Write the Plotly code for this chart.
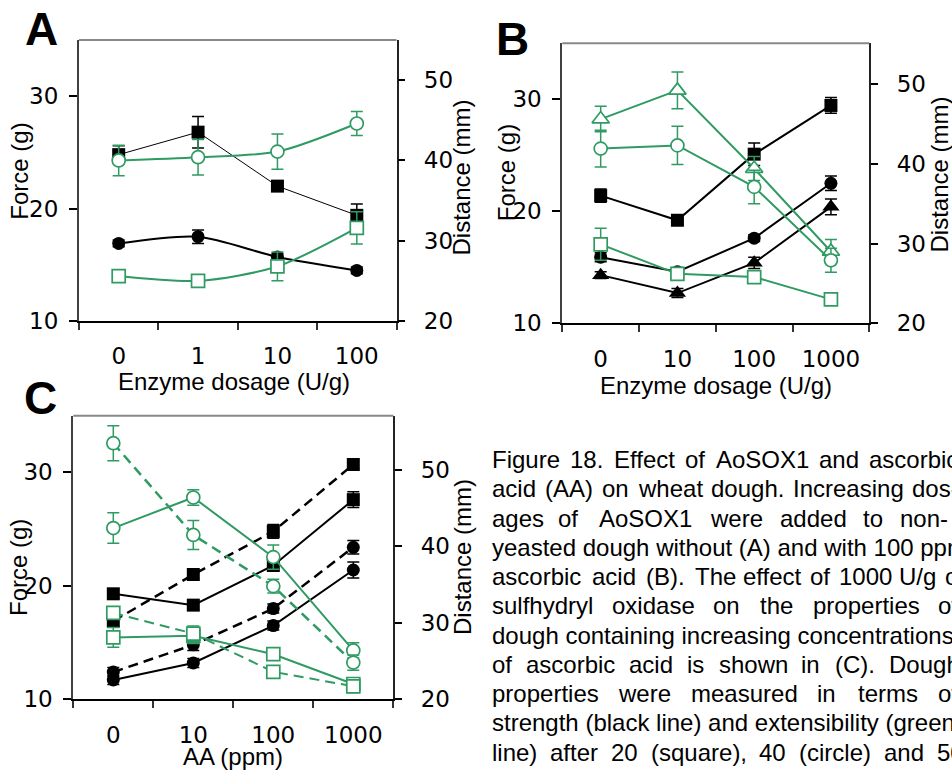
import plotly.graph_objects as go

W, H = 952, 771
GREEN = "#2f9a62"
BLACK = "#000000"

# ---------------- data ----------------
cats_A = ["0", "1", "10", "100"]
cats_BC = ["0", "10", "100", "1000"]

# Panel A (no ascorbic acid) - Force (g) left, Distance (mm) right
A_force_20 = [24.8, 26.8, 22.0, 19.4]
A_force_20_err = [0.8, 1.4, 0.3, 1.0]
A_force_40 = [16.9, 17.5, 15.7, 14.5]
A_force_40_err = [0.3, 0.6, 0.3, 0.3]
A_dist_40 = [40.0, 40.4, 41.1, 44.6]
A_dist_40_err = [1.9, 2.2, 2.2, 1.5]
A_dist_20 = [25.6, 25.0, 26.8, 31.6]
A_dist_20_err = [0.4, 0.3, 1.8, 2.0]

# Panel B (100 ppm ascorbic acid)
B_force_20 = [21.4, 19.2, 25.1, 29.45]
B_force_20_err = [0.6, 0.4, 1.0, 0.7]
B_force_40 = [15.9, 14.6, 17.6, 22.5]
B_force_40_err = [0.4, 0.3, 0.3, 0.65]
B_force_50 = [14.3, 12.7, 15.4, 20.4]
B_force_50_err = [0.3, 0.4, 0.5, 0.7]
B_dist_50 = [45.6, 49.2, 39.4, 29.0]
B_dist_50_err = [1.6, 2.3, 1.5, 1.5]
B_dist_40 = [41.9, 42.3, 37.1, 27.9]
B_dist_40_err = [2.3, 2.4, 2.1, 1.5]
B_dist_20 = [29.9, 26.2, 25.8, 23.0]
B_dist_20_err = [2.0, 0.8, 0.5, 0.5]

# Panel C (AA series; solid = without enzyme, dashed = with 1000 U/g)
C_force_20 = [19.3, 18.3, 21.8, 27.6]
C_force_20_err = [0.4, 0.4, 0.5, 0.7]
C_force_20_sox = [16.9, 21.0, 24.8, 30.7]
C_force_20_sox_err = [0.5, 0.4, 0.6, 0.4]
C_force_40 = [11.7, 13.2, 16.5, 21.4]
C_force_40_err = [0.4, 0.4, 0.4, 0.7]
C_force_40_sox = [12.4, 14.8, 18.0, 23.4]
C_force_40_sox_err = [0.4, 0.5, 0.4, 0.6]
C_dist_40 = [42.4, 46.4, 38.6, 26.4]
C_dist_40_err = [2.0, 1.0, 1.6, 1.0]
C_dist_40_sox = [53.5, 41.5, 34.8, 24.8]
C_dist_40_sox_err = [2.3, 1.9, 0.9, 1.0]
C_dist_20 = [28.1, 28.3, 25.9, 22.0]
C_dist_20_err = [1.3, 1.0, 0.5, 0.8]
C_dist_20_sox = [31.3, 28.6, 23.6, 21.7]
C_dist_20_sox_err = [0.8, 1.0, 0.5, 0.8]

force_ticks = [10, 20, 30]
dist_ticks = [20, 30, 40, 50]

# caption: justified lines placed word by word, natural lines as one string
caption_lines = [
    [("Figure", 491.7), ("18.", 569.6), ("Effect", 613.6), ("of", 685), ("AoSOX1", 715.9), ("and", 818.6), ("ascorbic", 869.1)],
    [("acid", 491.7), ("(AA)", 544.9), ("on", 602), ("wheat", 638.2), ("dough.", 711), ("Increasing", 793), ("dos-", 911.6)],
    [("ages", 491.7), ("of", 558), ("AoSOX1", 599.2), ("were", 710), ("added", 780), ("to", 863), ("non-", 900)],
    [("yeasted dough without (A) and with 100 ppm", 491.7)],
    [("ascorbic", 491.7), ("acid", 592), ("(B).", 646), ("The", 695), ("effect", 743), ("of", 810), ("1000", 839), ("U/g", 899), ("of", 945)],
    [("sulfhydryl", 491.7), ("oxidase", 611.5), ("on", 713.1), ("the", 759.8), ("properties", 813.1), ("of", 938.2)],
    [("dough containing increasing concentrations", 491.7)],
    [("of", 491.7), ("ascorbic", 526.2), ("acid", 628.6), ("is", 686.6), ("shown", 718.5), ("in", 801.3), ("(C).", 834.5), ("Dough", 888.6)],
    [("properties", 491.7), ("were", 618.1), ("measured", 690.9), ("in", 817.3), ("terms", 857.5), ("of", 938.2)],
    [("strength (black line) and extensibility (green", 491.7)],
    [("line)", 491.7), ("after", 550.1), ("20", 611.1), ("(square),", 651.2), ("40", 759.2), ("(circle)", 799.3), ("and", 883.8), ("50", 937)],
]

# ---------------- figure ----------------
fig = go.Figure()


def add(xa, ya, cats, vals, errs, color, symbol, filled, lw, dash=None, shape="linear", name=""):
    size = 15 if symbol == "triangle-up" else 13
    fig.add_trace(go.Scatter(
        x=cats, y=vals, xaxis=xa, yaxis=ya, name=name,
        mode="lines+markers",
        line=dict(color=color, width=lw, dash=dash, shape=shape, smoothing=0.8),
        marker=dict(symbol=symbol, size=size,
                    color=color if filled else "white",
                    line=dict(color=color, width=0 if filled else 1.7)),
        error_y=dict(type="data", array=errs, color=color, thickness=1.5, width=6),
        showlegend=False, cliponaxis=False,
    ))


# Panel A
add("x", "y", cats_A, A_force_20, A_force_20_err, BLACK, "square", True, 1.0, name="Force 20 min")
add("x", "y", cats_A, A_force_40, A_force_40_err, BLACK, "circle", True, 2.0, shape="spline", name="Force 40 min")
add("x", "y2", cats_A, A_dist_40, A_dist_40_err, GREEN, "circle", False, 2.0, shape="spline", name="Distance 40 min")
add("x", "y2", cats_A, A_dist_20, A_dist_20_err, GREEN, "square", False, 2.0, shape="spline", name="Distance 20 min")

# Panel B
add("x2", "y4", cats_BC, B_force_20, B_force_20_err, BLACK, "square", True, 2.0, name="Force 20 min")
add("x2", "y4", cats_BC, B_force_40, B_force_40_err, BLACK, "circle", True, 2.0, name="Force 40 min")
add("x2", "y4", cats_BC, B_force_50, B_force_50_err, BLACK, "triangle-up", True, 2.0, name="Force 50 min")
add("x2", "y5", cats_BC, B_dist_50, B_dist_50_err, GREEN, "triangle-up", False, 2.0, name="Distance 50 min")
add("x2", "y5", cats_BC, B_dist_40, B_dist_40_err, GREEN, "circle", False, 2.0, name="Distance 40 min")
add("x2", "y5", cats_BC, B_dist_20, B_dist_20_err, GREEN, "square", False, 2.0, name="Distance 20 min")

# Panel C
DASH = "10px,6px"
add("x3", "y7", cats_BC, C_force_20, C_force_20_err, BLACK, "square", True, 2.0, name="Force 20 min")
add("x3", "y7", cats_BC, C_force_20_sox, C_force_20_sox_err, BLACK, "square", True, 2.5, dash=DASH, name="Force 20 min + SOX")
add("x3", "y7", cats_BC, C_force_40, C_force_40_err, BLACK, "circle", True, 2.0, name="Force 40 min")
add("x3", "y7", cats_BC, C_force_40_sox, C_force_40_sox_err, BLACK, "circle", True, 2.5, dash=DASH, name="Force 40 min + SOX")
add("x3", "y8", cats_BC, C_dist_40, C_dist_40_err, GREEN, "circle", False, 2.0, name="Distance 40 min")
add("x3", "y8", cats_BC, C_dist_40_sox, C_dist_40_sox_err, GREEN, "circle", False, 2.5, dash=DASH, name="Distance 40 min + SOX")
add("x3", "y8", cats_BC, C_dist_20, C_dist_20_err, GREEN, "square", False, 2.0, name="Distance 20 min")
add("x3", "y8", cats_BC, C_dist_20_sox, C_dist_20_sox_err, GREEN, "square", False, 2.0, dash=DASH, name="Distance 20 min + SOX")

TICKFONT = dict(family="DejaVu Sans", size=23, color="black")


def xdom(a, b):
    return [a / W, b / W]


def ydom(top, bottom):
    return [1 - bottom / H, 1 - top / H]


panels = [
    ("xaxis", "yaxis", "yaxis2", "yaxis3", "x", "y", xdom(79, 396.5), ydom(40, 321), cats_A, [20, 55]),
    ("xaxis2", "yaxis4", "yaxis5", "yaxis6", "x2", "y4", xdom(562.3, 869.3), ydom(43.3, 323.3), cats_BC, [20, 55.1]),
    ("xaxis3", "yaxis7", "yaxis8", "yaxis9", "x3", "y7", xdom(73.3, 393.3), ydom(415.7, 699.3), cats_BC, [20, 57.1]),
]

layout_axes = {}
shapes = []
for xn, yl, yr, yi, xid, yid, xd, yd, cats, rr in panels:
    layout_axes[xn] = dict(
        domain=xd, anchor=yid, type="category", categoryorder="array", categoryarray=cats,
        range=[-0.5, 3.5], tickson="boundaries", ticks="outside", ticklen=7, tickwidth=1.5,
        tickcolor="#333333", showline=True, linecolor="black", linewidth=1.5,
        tickfont=TICKFONT, ticklabelstandoff=14, showgrid=False, zeroline=False,
        automargin=False,
    )
    layout_axes[yl] = dict(
        domain=yd, anchor=xid, range=[10, 35], tickvals=force_ticks, ticks="outside",
        ticklen=8, tickwidth=1.5, tickcolor="black", showline=True, linecolor="#404040",
        linewidth=2, tickfont=TICKFONT, ticklabelstandoff=6, showgrid=False, zeroline=False,
        automargin=False,
    )
    layout_axes[yr] = dict(
        overlaying=yid, side="right", anchor=xid, range=rr, tickvals=dist_ticks,
        ticks="outside", ticklen=7, tickwidth=1.5, tickcolor="black", showline=True,
        linecolor="#222222", linewidth=1.5, tickfont=TICKFONT, ticklabelstandoff=14,
        showgrid=False, zeroline=False, automargin=False,
    )
    layout_axes[yi] = dict(
        overlaying=yid, side="right", anchor=xid, range=rr, tickvals=dist_ticks,
        ticks="inside", ticklen=7, tickwidth=1.5, tickcolor="black", showline=False,
        showticklabels=False, showgrid=False, zeroline=False, automargin=False,
    )
    shapes.append(dict(type="line", xref=f"{xid} domain", yref=f"{yid} domain",
                       x0=0, x1=1, y0=1, y1=1, line=dict(color="#888888", width=2)))

annotations = []


def ann(text, x, y, size, family="Liberation Sans", angle=0, bold=False, xanchor="center"):
    annotations.append(dict(
        text=f"<b>{text}</b>" if bold else text, x=x / W, y=1 - y / H, xref="paper", yref="paper",
        showarrow=False, textangle=angle, xanchor=xanchor, yanchor="middle",
        font=dict(family=family, size=size, color="black"),
    ))


# panel letters
ann("A", 41.3, 29.1, 46, bold=True)
ann("B", 512.5, 39.0, 46, bold=True)
ann("C", 40.0, 398.0, 46, bold=True)

# axis titles
ann("Force (g)", 20.0, 171.7, 24, angle=-90)
ann("Force (g)", 506.7, 172.5, 24, angle=-90)
ann("Force (g)", 18.5, 567.5, 24, angle=-90)
ann("Distance (mm)", 461.0, 177.5, 24, angle=-90)
ann("Distance (mm)", 939.5, 175.0, 24, angle=-90)
ann("Distance (mm)", 462.0, 557.0, 24, angle=-90)
ann("Enzyme dosage (U/g)", 234.0, 381.7, 24)
ann("Enzyme dosage (U/g)", 715.8, 385.0, 24)
ann("AA (ppm)", 232.5, 756.0, 24)

# caption
for k, line in enumerate(caption_lines):
    yc = 459.5 + 29.25 * k
    for word, xw in line:
        ann(word, xw - 2, yc, 24, xanchor="left")

fig.update_layout(
    width=W, height=H, margin=dict(l=0, r=0, t=0, b=0, autoexpand=False),
    paper_bgcolor="white", plot_bgcolor="white",
    showlegend=False, shapes=shapes, annotations=annotations,
    **layout_axes,
)

fig.write_html(
    "out.html", config={"displayModeBar": False},
    post_script=("document.body.style.margin='0px';"
                 "document.body.style.overflow='hidden';"
                 "document.documentElement.style.overflow='hidden';"),
)
